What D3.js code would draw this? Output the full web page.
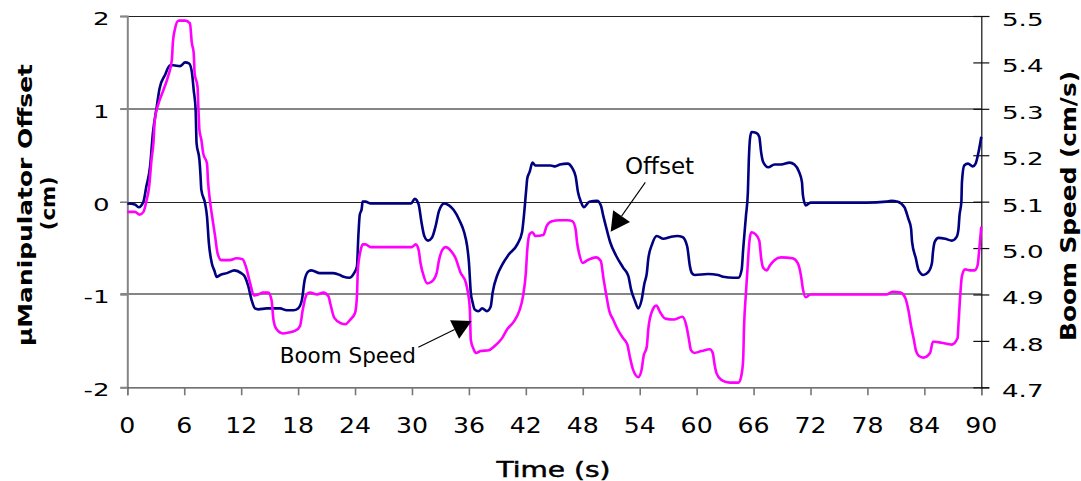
<!DOCTYPE html>
<html><head><meta charset="utf-8">
<script src="https://cdn.jsdelivr.net/npm/d3@7"></script>
<style>body{margin:0;background:#fff}svg{display:block}</style>
</head><body><svg id="c" width="1081" height="481"></svg>
<script>
// ---- DATA ----
const offsetTime = [0.0,0.8,1.2,1.7,2.0,2.4,2.7,3.1,3.4,4.0,4.5,4.85,5.55,6.1,6.5,6.8,7.0,7.2,7.3,7.6,7.7,7.8,8.2,8.4,8.6,8.9,9.2,9.4,9.8,10.5,11.3,12.0,12.4,12.75,13.1,13.45,13.8,14.7,16.1,16.8,17.5,18.0,18.4,18.7,19.1,19.4,20.3,21.7,22.4,22.8,23.4,23.9,24.2,24.35,24.5,24.7,24.8,25.1,25.65,27.8,29.9,30.3,30.7,31.0,31.3,31.7,32.1,32.5,32.85,33.4,33.9,34.4,35.0,35.5,35.8,36.0,36.2,36.4,36.6,37.0,37.4,37.9,38.3,38.5,39.0,39.5,40.2,41.1,41.6,41.8,42.05,42.15,42.4,42.7,43.0,44.6,45.1,45.6,46.4,46.9,47.25,47.5,47.8,48.1,48.7,49.5,49.9,50.2,50.5,50.9,51.5,52.25,52.8,53.1,53.5,53.85,54.2,54.5,54.75,54.9,55.3,55.8,56.5,57.25,57.96,58.5,59.0,59.3,59.5,59.8,61.2,62.25,62.8,63.9,64.4,64.75,64.9,65.2,65.4,65.5,65.65,65.8,66.3,66.6,66.8,67.0,67.55,68.2,68.9,69.8,70.3,70.8,71.1,71.2,71.5,72.0,74.4,77.9,80.0,80.5,81.2,81.9,82.3,82.6,82.7,83.1,83.4,83.9,84.4,84.8,84.9,85.1,85.5,86.2,86.9,87.4,87.6,87.7,87.9,87.96,88.2,88.6,89.1,89.4,89.7,90.0];
const offsetValues = [-0.02,-0.03,-0.06,0.00,0.16,0.38,0.74,1.02,1.22,1.37,1.47,1.47,1.46,1.50,1.49,1.40,1.20,0.99,0.63,0.45,0.31,0.13,-0.02,-0.16,-0.45,-0.66,-0.75,-0.81,-0.79,-0.77,-0.74,-0.77,-0.81,-0.91,-1.06,-1.15,-1.16,-1.15,-1.15,-1.17,-1.17,-1.15,-1.06,-0.84,-0.75,-0.74,-0.77,-0.77,-0.79,-0.81,-0.82,-0.77,-0.70,-0.37,-0.14,-0.08,0.00,0.00,-0.02,-0.02,-0.02,0.03,-0.03,-0.22,-0.37,-0.42,-0.39,-0.26,-0.10,-0.02,-0.04,-0.09,-0.20,-0.33,-0.47,-0.65,-0.98,-1.09,-1.16,-1.18,-1.15,-1.18,-1.13,-0.98,-0.79,-0.68,-0.57,-0.46,-0.33,-0.15,0.14,0.25,0.32,0.42,0.39,0.39,0.38,0.40,0.41,0.36,0.27,0.10,0.00,-0.06,0.00,0.01,-0.04,-0.17,-0.29,-0.44,-0.58,-0.71,-0.80,-0.95,-1.07,-1.15,-1.06,-0.88,-0.77,-0.62,-0.46,-0.37,-0.40,-0.38,-0.37,-0.38,-0.48,-0.70,-0.77,-0.79,-0.78,-0.79,-0.81,-0.82,-0.82,-0.73,-0.52,-0.15,0.10,0.45,0.70,0.75,0.74,0.70,0.53,0.43,0.37,0.40,0.40,0.42,0.40,0.32,0.21,0.07,-0.04,-0.01,-0.01,-0.01,0.00,0.01,0.00,-0.06,-0.18,-0.29,-0.43,-0.61,-0.74,-0.79,-0.76,-0.66,-0.55,-0.43,-0.39,-0.40,-0.42,-0.38,-0.29,-0.15,0.00,0.21,0.39,0.41,0.38,0.41,0.53,0.70];
const boomTime = [0.0,0.8,1.3,1.7,2.0,2.3,2.55,2.75,2.9,3.3,3.8,4.3,4.7,4.8,5.0,5.4,6.1,6.6,6.8,7.0,7.1,7.4,7.5,7.6,7.8,8.0,8.4,8.5,8.7,9.0,9.25,9.5,9.9,10.8,11.5,12.15,12.5,12.9,13.35,13.8,14.3,14.85,15.2,15.4,15.7,16.4,17.0,17.7,18.2,18.5,18.9,19.25,20.0,20.65,21.2,21.4,21.8,22.5,23.0,23.5,24.0,24.2,24.3,24.6,24.8,25.1,25.65,27.8,30.0,30.4,30.7,30.9,31.2,31.6,32.1,32.6,32.85,33.2,33.55,34.1,34.6,35.1,35.7,35.9,36.1,36.2,36.5,36.7,37.25,38.1,38.65,39.5,40.0,40.75,41.3,41.7,42.0,42.15,42.4,42.7,43.0,43.85,44.2,44.75,45.5,46.4,46.9,47.25,47.4,47.6,48.0,48.5,49.4,49.9,50.2,50.5,50.8,51.2,51.7,52.25,52.7,52.96,53.3,53.85,54.2,54.4,54.75,54.9,55.3,55.75,56.2,56.7,57.6,58.5,58.9,59.2,59.4,59.75,60.5,61.4,61.7,61.9,62.1,62.6,63.5,64.4,64.7,64.9,65.0,65.2,65.4,65.55,65.75,66.2,66.6,66.8,67.0,67.4,67.7,68.2,68.9,70.1,70.65,71.0,71.2,71.5,72.0,74.4,77.9,80.0,80.65,81.5,82.0,82.3,82.6,82.9,83.1,83.4,83.9,84.6,84.9,85.1,85.8,86.9,87.5,87.6,87.8,87.96,88.3,88.8,89.3,89.6,89.8,90.0];
const boomValues = [5.078,5.078,5.072,5.078,5.100,5.132,5.190,5.226,5.276,5.312,5.340,5.370,5.406,5.442,5.470,5.490,5.490,5.484,5.442,5.420,5.376,5.348,5.298,5.254,5.234,5.204,5.182,5.146,5.104,5.060,5.026,4.990,4.974,4.974,4.978,4.976,4.960,4.928,4.898,4.900,4.904,4.904,4.888,4.846,4.826,4.816,4.818,4.822,4.832,4.868,4.900,4.904,4.900,4.904,4.896,4.880,4.850,4.838,4.836,4.846,4.860,4.896,4.954,4.996,5.008,5.008,5.002,5.002,5.002,5.008,4.996,4.968,4.942,4.924,4.928,4.946,4.974,4.996,5.002,4.994,4.978,4.948,4.924,4.904,4.868,4.802,4.782,4.774,4.778,4.780,4.788,4.806,4.824,4.842,4.864,4.896,4.946,4.996,5.030,5.034,5.026,5.028,5.048,5.058,5.060,5.060,5.058,5.040,5.012,4.990,4.968,4.974,4.980,4.972,4.932,4.896,4.864,4.846,4.824,4.806,4.792,4.766,4.738,4.722,4.738,4.766,4.788,4.824,4.864,4.876,4.860,4.848,4.846,4.852,4.834,4.802,4.780,4.774,4.778,4.782,4.774,4.748,4.730,4.716,4.710,4.710,4.724,4.758,4.832,4.904,4.968,5.012,5.034,5.030,5.016,4.978,4.958,4.952,4.962,4.974,4.980,4.978,4.968,4.940,4.912,4.894,4.900,4.900,4.900,4.900,4.906,4.904,4.892,4.868,4.832,4.802,4.780,4.768,4.764,4.774,4.798,4.798,4.796,4.792,4.806,4.838,4.904,4.940,4.954,4.952,4.952,4.962,5.000,5.046];
const timeTicks = [0,6,12,18,24,30,36,42,48,54,60,66,72,78,84,90];
const offsetTicks = [2,1,0,-1,-2];
const offsetTickLabels = ["2","1","0","-1","-2"];
const speedTicks = [5.5,5.4,5.3,5.2,5.1,5.0,4.9,4.8,4.7];
const speedTickLabels = ["5.5","5.4","5.3","5.2","5.1","5.0","4.9","4.8","4.7"];
const xTitle = "Time (s)";
const yTitleLines = ["\u00B5Manipulator Offset","(cm)"];
const y2Title = "Boom Speed (cm/s)";
// annotations in data coordinates (time, offset units)
const annotationLabels = ["Offset","Boom Speed"];
const annotationText = [[52.45,0.295],[30.42,-1.738]];
const annotationFrom = [[54.59,0.208],[30.67,-1.569]];
const annotationTip = [[50.94,-0.324],[36.29,-1.286]];

// ---- CHART ----
const FONT = "'DejaVu Sans', Verdana, sans-serif";
const svg = d3.select('#c');
const L = 127.3, R = 981.3, T = 16, B = 387.3;
const x = d3.scaleLinear().domain([0,90]).range([L,R]);
const yL = d3.scaleLinear().domain([-2,2]).range([B,T]);
const yR = d3.scaleLinear().domain([4.7,5.5]).range([B,T]);

svg.append('rect').attr('width',1081).attr('height',481).attr('fill','#fff');

// gridlines
const grid = svg.append('g');
grid.selectAll('line').data(offsetTicks.filter(v=>v>-2)).join('line')
  .attr('x1',L-7).attr('x2',R)
  .attr('y1',d=>Math.round(yL(d))+ (Math.abs(d)%2===1?0:0.5))
  .attr('y2',d=>Math.round(yL(d))+ (Math.abs(d)%2===1?0:0.5))
  .attr('stroke',d=>Math.abs(d)%2===1?'#858585':'#222')
  .attr('stroke-width',d=>Math.abs(d)%2===1?2:1);

// left axis
const gl = svg.append('g').attr('transform',`translate(${L},0)`)
  .call(d3.axisLeft(yL).tickValues(offsetTicks).tickSize(7).tickFormat(''));
gl.select('.domain').attr('stroke','#858585').attr('stroke-width',2);
gl.selectAll('.tick line').attr('stroke','#858585').attr('stroke-width',1.5);

// bottom axis
const gb = svg.append('g').attr('transform',`translate(0,${B})`)
  .call(d3.axisBottom(x).tickValues(timeTicks).tickSize(8).tickFormat(''));
gb.select('.domain').attr('stroke','#444').attr('stroke-width',1.3);
gb.selectAll('.tick line').attr('stroke','#777').attr('stroke-width',1.6);

// right axis with crossing ticks
const gr = svg.append('g').attr('transform',`translate(${R},0)`)
  .call(d3.axisRight(yR).tickValues(speedTicks).tickSize(8).tickFormat(''));
gr.select('.domain').attr('stroke','#111').attr('stroke-width',1.2);
gr.selectAll('.tick line').attr('x1',-8).attr('x2',8).attr('stroke','#111').attr('stroke-width',1.2);

// tick labels
const lbl = svg.append('g').attr('font-family',FONT).attr('fill','#000');
lbl.selectAll('g.yl').data(offsetTicks).join('g').attr('class','yl')
  .attr('transform',d=>`translate(109.5,${yL(d)+9}) scale(1.45,1)`)
  .append('text').attr('text-anchor','end').attr('font-size',18)
  .text((d,i)=>offsetTickLabels[i]);
lbl.selectAll('g.yr').data(speedTicks).join('g').attr('class','yr')
  .attr('transform',d=>`translate(1002,${yR(d)+10}) scale(1.45,1)`)
  .append('text').attr('text-anchor','start').attr('font-size',18)
  .text((d,i)=>speedTickLabels[i]);
lbl.selectAll('g.xl').data(timeTicks).join('g').attr('class','xl')
  .attr('transform',d=>`translate(${x(d)},433.3) scale(1.2,1)`)
  .append('text').attr('text-anchor','middle').attr('font-size',21)
  .text(d=>String(d));

// axis titles
lbl.append('text').attr('x',553.5).attr('y',477).attr('text-anchor','middle')
  .attr('font-size',22).attr('textLength',114).attr('lengthAdjust','spacingAndGlyphs')
  .attr('stroke','#000').attr('stroke-width',0.5)
  .text(xTitle);
lbl.append('text').attr('transform','translate(31.7,205) rotate(-90)').attr('text-anchor','middle')
  .attr('font-size',20).attr('font-weight','bold').attr('textLength',282).attr('lengthAdjust','spacingAndGlyphs')
  .text(yTitleLines[0]);
lbl.append('text').attr('transform','translate(55,203.3) rotate(-90)').attr('text-anchor','middle')
  .attr('font-size',20).attr('font-weight','bold').attr('textLength',54).attr('lengthAdjust','spacingAndGlyphs')
  .text(yTitleLines[1]);
lbl.append('text').attr('transform','translate(1076,206) rotate(-90)').attr('text-anchor','middle')
  .attr('font-size',22).attr('font-weight','bold').attr('textLength',270).attr('lengthAdjust','spacingAndGlyphs')
  .text(y2Title);

// series
const offsetData = offsetTime.map((t,i)=>[t,offsetValues[i]]);
const boomData = boomTime.map((t,i)=>[t,boomValues[i]]);
const lineL = d3.line().x(d=>x(d[0])).y(d=>yL(d[1])).curve(d3.curveMonotoneX);
const lineR = d3.line().x(d=>x(d[0])).y(d=>yR(d[1])).curve(d3.curveMonotoneX);
svg.append('path').datum(offsetData).attr('d',lineL).attr('fill','none')
  .attr('stroke','#000080').attr('stroke-width',2.6).attr('stroke-linejoin','round');
svg.append('path').datum(boomData).attr('d',lineR).attr('fill','none')
  .attr('stroke','#ff00ff').attr('stroke-width',2.6).attr('stroke-linejoin','round');

// annotations
const ann = svg.append('g').attr('font-family',FONT);
annotationLabels.forEach((label,i)=>{
  const [tx,tv] = annotationText[i];
  ann.append('text').attr('x',x(tx)).attr('y',yL(tv))
    .attr('text-anchor', i===0 ? 'start' : 'end')
    .attr('font-size', i===0 ? 23 : 21.5).text(label);
  const x0 = x(annotationFrom[i][0]), y0 = yL(annotationFrom[i][1]);
  const x1 = x(annotationTip[i][0]), y1 = yL(annotationTip[i][1]);
  const dx = x1-x0, dy = y1-y0, len = Math.hypot(dx,dy);
  const ux = dx/len, uy = dy/len, hl = 19, hw = 10.3;
  const bx = x1-ux*hl, by = y1-uy*hl;
  ann.append('line').attr('x1',x0).attr('y1',y0).attr('x2',bx).attr('y2',by)
    .attr('stroke','#000').attr('stroke-width',1.1);
  ann.append('path').attr('d',`M${x1},${y1}L${bx-uy*hw},${by+ux*hw}L${bx+uy*hw},${by-ux*hw}Z`)
    .attr('fill','#000');
});
</script></body></html>
